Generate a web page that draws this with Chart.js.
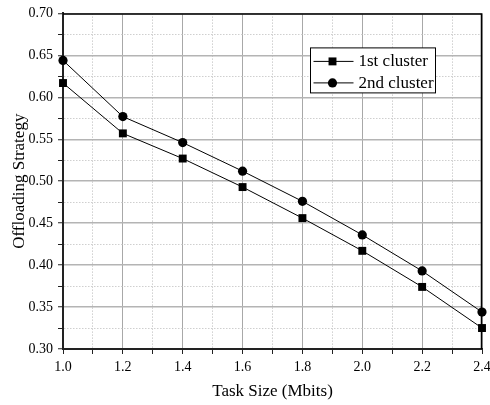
<!DOCTYPE html>
<html>
<head>
<meta charset="utf-8">
<script src="https://cdn.jsdelivr.net/npm/chart.js@4/dist/chart.umd.min.js"></script>
<style>
html,body{margin:0;padding:0;background:#fff;}
#wrap{width:490px;height:405px;position:relative;}
</style>
</head>
<body>
<div id="wrap"><canvas id="c" width="490" height="405"></canvas></div>
<script>
const taskSizes = [1.0, 1.2, 1.4, 1.6, 1.8, 2.0, 2.2, 2.4];
const cluster1 = [0.617, 0.557, 0.527, 0.493, 0.456, 0.417, 0.374, 0.325];
const cluster2 = [0.644, 0.577, 0.546, 0.512, 0.476, 0.436, 0.393, 0.344];
const seriesLabels = ['1st cluster', '2nd cluster'];
const xTitle = 'Task Size (Mbits)';
const yTitle = 'Offloading Strategy';

const FONT = "'Liberation Serif', 'Times New Roman', serif";

function isMajor(v, step) {
  const r = Math.round(v * 1000);
  return Math.abs(r % Math.round(step * 1000)) === 0;
}

const framePlugin = {
  id: 'frame',
  afterDatasetsDraw(chart) {
    const a = chart.chartArea, ctx = chart.ctx;
    ctx.save();
    ctx.strokeStyle = '#000';
    ctx.lineWidth = 1.5;
    ctx.beginPath();
    ctx.moveTo(a.left, a.top + 0.5);
    ctx.lineTo(a.right - 0.5, a.top + 0.5);
    ctx.lineTo(a.right - 0.5, a.bottom);
    ctx.stroke();
    ctx.restore();
  }
};

const legendPlugin = {
  id: 'boxLegend',
  afterDraw(chart) {
    const a = chart.chartArea, ctx = chart.ctx;
    const bx = a.right - 171.5, by = a.top + 34.5, bw = 125, bh = 45;
    ctx.save();
    ctx.fillStyle = '#fff';
    ctx.fillRect(bx, by, bw, bh);
    ctx.strokeStyle = '#000';
    ctx.lineWidth = 1;
    ctx.strokeRect(bx, by, bw, bh);
    chart.data.datasets.forEach((ds, i) => {
      const y = by + 13.5 + i * 21.5;
      ctx.strokeStyle = ds.borderColor;
      ctx.lineWidth = 1;
      ctx.beginPath();
      ctx.moveTo(bx + 3, y);
      ctx.lineTo(bx + 43, y);
      ctx.stroke();
      ctx.fillStyle = ds.pointBackgroundColor;
      if (Chart.helpers && Chart.helpers.drawPoint) {
        Chart.helpers.drawPoint(ctx, {pointStyle: ds.pointStyle, radius: ds.pointRadius, borderWidth: 0, rotation: 0}, bx + 22, y);
      } else {
        ctx.beginPath();
        ctx.arc(bx + 22, y, ds.pointRadius, 0, Math.PI * 2);
        ctx.fill();
      }
      ctx.fillStyle = '#000';
      ctx.font = "17px " + FONT;
      ctx.textBaseline = 'middle';
      ctx.textAlign = 'left';
      ctx.fillText(ds.label, bx + 48, y + 0.5);
    });
    ctx.restore();
  }
};

new Chart(document.getElementById('c'), {
  type: 'line',
  data: {
    datasets: [
      {
        label: seriesLabels[0],
        data: taskSizes.map((x, i) => ({x: x, y: cluster1[i]})),
        borderColor: '#000', backgroundColor: '#000',
        pointBackgroundColor: '#000', pointBorderColor: '#000',
        borderWidth: 1, pointStyle: 'rect', pointRadius: 5.6, pointBorderWidth: 0,
        tension: 0, clip: false
      },
      {
        label: seriesLabels[1],
        data: taskSizes.map((x, i) => ({x: x, y: cluster2[i]})),
        borderColor: '#000', backgroundColor: '#000',
        pointBackgroundColor: '#000', pointBorderColor: '#000',
        borderWidth: 1, pointStyle: 'circle', pointRadius: 4.6, pointBorderWidth: 0,
        tension: 0, clip: false
      }
    ]
  },
  options: {
    responsive: false,
    animation: false,
    devicePixelRatio: 1,
    layout: {padding: {left: 0, right: 0, top: 13, bottom: 0}},
    plugins: {legend: {display: false}, tooltip: {enabled: false}},
    scales: {
      x: {
        type: 'linear', min: 1.0, max: 2.4,
        ticks: {
          stepSize: 0.1, autoSkip: false, maxRotation: 0, padding: 5,
          color: '#000', font: {family: FONT, size: 14},
          callback: v => isMajor(v, 0.2) ? v.toFixed(1) : ''
        },
        grid: {
          color: c => (c.tick && isMajor(c.tick.value, 0.2)) ? '#a8a8a8' : '#cfcfcf',
          lineWidth: 1, tickLength: 5, tickColor: '#222', tickWidth: 1
        },
        border: {
          color: '#222', width: 2,
          dash: c => (c.tick && !isMajor(c.tick.value, 0.2)) ? [1.5, 1.5] : []
        },
        title: {display: true, text: xTitle, color: '#000', font: {family: FONT, size: 17}, padding: {top: 4, bottom: 3}},
        afterFit: s => { s.height = 56; s.paddingRight = 8; s.paddingLeft = 0; }
      },
      y: {
        type: 'linear', min: 0.30, max: 0.70,
        ticks: {
          stepSize: 0.025, autoSkip: false, padding: 5,
          color: '#000', font: {family: FONT, size: 14},
          callback: v => isMajor(v, 0.05) ? v.toFixed(2) : ''
        },
        grid: {
          color: c => (c.tick && isMajor(c.tick.value, 0.05)) ? '#b4b4b4' : '#cfcfcf',
          lineWidth: c => (c.tick && isMajor(c.tick.value, 0.05)) ? 1.5 : 1,
          tickLength: 5, tickColor: '#222', tickWidth: 1
        },
        border: {
          color: '#222', width: 2,
          dash: c => (c.tick && !isMajor(c.tick.value, 0.05)) ? [1.5, 1.5] : []
        },
        title: {display: true, text: yTitle, color: '#000', font: {family: FONT, size: 17}, padding: {top: 9, bottom: 2}},
        afterFit: s => { s.width = 63; }
      }
    }
  },
  plugins: [framePlugin, legendPlugin]
});
</script>
</body>
</html>
